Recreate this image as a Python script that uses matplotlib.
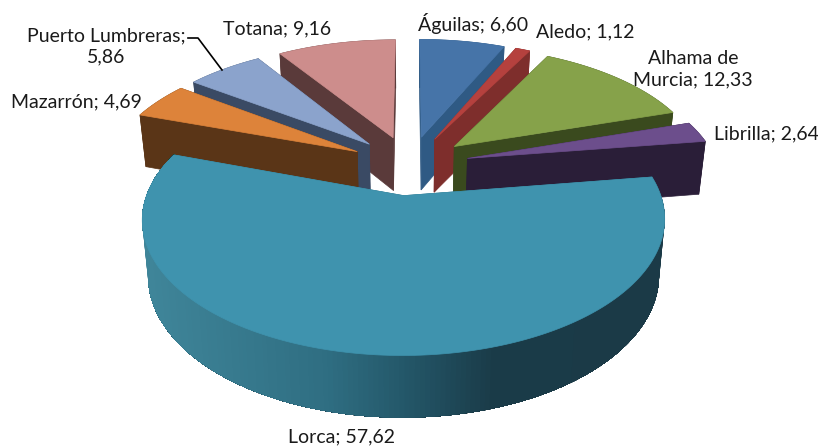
import numpy as np
import matplotlib
matplotlib.use("Agg")
import matplotlib.pyplot as plt
from matplotlib.patches import Polygon
from matplotlib.colors import to_rgb

categories = ["Águilas", "Aledo", "Alhama de Murcia", "Librilla", "Lorca", "Mazarrón", "Puerto Lumbreras", "Totana"]
values = [6.60, 1.12, 12.33, 2.64, 57.62, 4.69, 5.86, 9.16]
top_colors = ["#4674A8", "#B5413E", "#86A24A", "#6C4E8C", "#3F93AE", "#DD833A", "#8BA3CC", "#CD8D8C"]
wall_colors = ["#2F5A84", "#7E2E2C", "#3A4A1E", "#2A1E38", "#2C6C80", "#5A3517", "#3A4A64", "#5A3A3A"]
radius_scale = [1, 1, 1, 1, 0.987, 1, 1, 1]
draw_order = [7, 0, 1, 2, 6, 5, 3, 4]

label_texts = ["Águilas; 6,60", "Aledo; 1,12", "Alhama de\nMurcia; 12,33", "Librilla; 2,64",
               "Lorca; 57,62", "Mazarrón; 4,69", "Puerto Lumbreras;\n5,86", "Totana; 9,16"]
label_pos = [(473, 23), (585, 32), (693, 69), (766, 134), (342, 437), (76, 102), (106, 46), (277, 29)]
leader_x = [188, 198, 222]
leader_y = [38, 38, 70]

shade_t = [0, 0.35, 0.5, 0.68, 1]
shade_c = ["#3F8599", "#2F6E82", "#24586A", "#1A3B48", "#1B3A47"]

CX, CY = 409.5, 165
A, B, K = 250, 123, 0.17
EXPLODE = 0.24
DEPTH, SHRINK = 54, 0.978


def project(u, v):
    w = 1 + K * v
    return CX + A * u / w, CY - B * v / w, w


def lower(x, y, w):
    return CX + (x - CX) * SHRINK, y + DEPTH / w ** 0.6


fig = plt.figure(figsize=(8.18, 4.48), dpi=100)
ax = fig.add_axes([0, 0, 1, 1])
ax.set_xlim(0, 818)
ax.set_ylim(448, 0)
ax.axis("off")

fracs = np.array(values) / sum(values)
edges = np.concatenate([[0], np.cumsum(fracs)]) * 2 * np.pi
shade_rgb = np.array([to_rgb(c) for c in shade_c])


def lorca_shade(t):
    return tuple(np.interp(t, shade_t, shade_rgb[:, i]) for i in range(3))


for idx in draw_order:
    t0, t1 = edges[idx], edges[idx + 1]
    mid = (t0 + t1) / 2
    ou, ov = EXPLODE * np.sin(mid), EXPLODE * np.cos(mid)
    th = np.linspace(t0, t1, max(6, int((t1 - t0) * 60)))
    rs = radius_scale[idx]
    rx, ry, rw = project(ou + rs * np.sin(th), ov + rs * np.cos(th))
    ax_, ay_, aw_ = project(ou, ov)
    lrx, lry = lower(rx, ry, rw)
    lax, lay = lower(ax_, ay_, aw_)
    wall = wall_colors[idx]
    # radial faces
    for px, py, qx, qy in [(rx[0], ry[0], lrx[0], lry[0]), (rx[-1], ry[-1], lrx[-1], lry[-1])]:
        ax.add_patch(Polygon([(ax_, ay_), (px, py), (qx, qy), (lax, lay)], closed=True,
                             facecolor=wall, edgecolor=wall, lw=0.5))
    # outer rim wall, painted in overlapping steps so that no seams show
    if categories[idx] == "Lorca":
        for j in range(len(th) - 1):
            c = lorca_shade(np.clip((rx[j] - 150) / 510, 0, 1))
            pts = list(zip(rx[j:], ry[j:])) + list(zip(lrx[j:], lry[j:]))[::-1]
            ax.add_patch(Polygon(pts, closed=True, facecolor=c, edgecolor="none"))
    else:
        pts = list(zip(rx, ry)) + list(zip(lrx, lry))[::-1]
        ax.add_patch(Polygon(pts, closed=True, facecolor=wall, edgecolor=wall, lw=0.5))
    # top face
    pts = [(ax_, ay_)] + list(zip(rx, ry))
    ax.add_patch(Polygon(pts, closed=True, facecolor=top_colors[idx], edgecolor=top_colors[idx], lw=0.5))

ax.plot(leader_x, leader_y, color="black", lw=1.2)
for txt, (x, y) in zip(label_texts, label_pos):
    ax.text(x, y, txt, ha="center", va="center", family="Lato", fontsize=14, color="#1a1a1a", linespacing=1.3)

fig.savefig("out.png", dpi=100, facecolor="white")
